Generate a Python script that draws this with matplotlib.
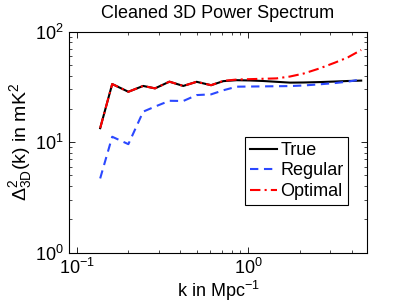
import numpy as np
from matplotlib import pyplot as plt

plt.rcParams['font.family'] = ['Liberation Sans', 'DejaVu Sans']
plt.rcParams['mathtext.fontset'] = 'custom'
plt.rcParams['mathtext.rm'] = 'Liberation Sans'
plt.rcParams['mathtext.it'] = 'Liberation Sans'
plt.rcParams['mathtext.default'] = 'regular'

# wavenumber bins (Mpc^-1)
k = [0.137, 0.161, 0.2, 0.244, 0.286, 0.347, 0.418, 0.5, 0.607, 0.715, 0.855,
     1.02, 1.22, 1.46, 1.75, 2.1, 2.6, 3.2, 3.8, 4.55]

# power spectra (mK^2)
p_true = [13.4, 33.6, 28.6, 32.3, 30.7, 35.3, 32.3, 35.2, 32.8, 35.7, 36.4,
          36.2, 35.8, 35.2, 34.6, 34.7, 35.0, 35.4, 35.8, 36.1]
p_regular = [4.7, 11.2, 9.6, 18.9, 21.0, 23.7, 23.6, 26.7, 27.1, 29.5, 31.8,
             31.9, 32.0, 32.1, 32.2, 32.6, 33.4, 34.3, 35.3, 37.0]
p_optimal = [13.4, 33.6, 28.6, 32.3, 30.7, 35.3, 32.3, 35.2, 32.8, 35.9, 36.9,
             37.2, 37.5, 37.8, 39.3, 41.8, 46.5, 52.5, 58.5, 68.3]

fs = 13

fig = plt.figure(figsize=(4.07, 3.06), dpi=100)
ax = fig.add_axes([0.1688, 0.1742, 0.7337, 0.7222])

ax.loglog(k, p_true, color='black', lw=1.5, label='True')
ax.loglog(k, p_regular, color='#2b48ff', lw=1.5, ls=(0, (4, 2.7)), label='Regular')
ax.loglog(k, p_optimal, color='red', lw=1.5, ls=(0, (5, 2, 1, 2)), label='Optimal')

ax.set_xlim(0.0898, 4.94)
ax.set_ylim(1, 100)

ax.tick_params(which='both', direction='in', top=True, right=True, labelsize=fs)
ax.tick_params(which='major', length=4, width=0.6)
ax.tick_params(which='minor', length=2, width=0.5)
for s in ax.spines.values():
    s.set_linewidth(0.8)

ax.set_title('Cleaned 3D Power Spectrum', fontsize=fs, pad=10)
ax.set_xlabel('k in Mpc$^{-1}$', fontsize=fs, labelpad=1)
ax.set_ylabel(r'$\Delta^2_{3D}$(k) in mK$^2$', fontsize=14, labelpad=1)

leg = ax.legend(loc='upper right', bbox_to_anchor=(0.936, 0.522), fontsize=fs,
                frameon=True, fancybox=False, edgecolor='black', framealpha=1,
                handlelength=1.5, handletextpad=0.2, labelspacing=0.2,
                borderpad=0.25, borderaxespad=0)
leg.get_frame().set_linewidth(0.8)

fig.savefig('out.png', dpi=100)
